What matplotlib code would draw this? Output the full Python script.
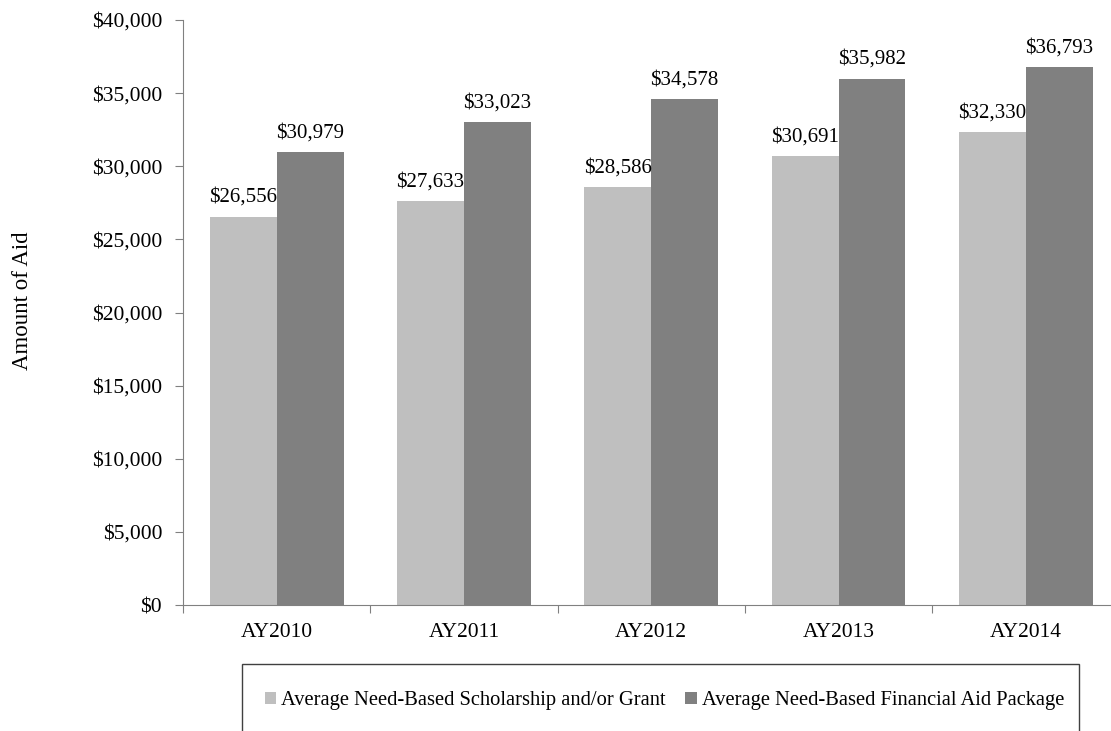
import matplotlib
matplotlib.use("Agg")
import matplotlib.pyplot as plt
import numpy as np
from matplotlib.patches import Rectangle
from matplotlib.ticker import FuncFormatter

years = ["AY2010", "AY2011", "AY2012", "AY2013", "AY2014"]
grant = [26556, 27633, 28586, 30691, 32330]
package = [30979, 33023, 34578, 35982, 36793]
series_names = ["Average Need-Based Scholarship and/or Grant",
                "Average Need-Based Financial Aid Package"]

plt.rcParams['font.family'] = ['Liberation Serif', 'DejaVu Serif']
FS = 15.5

fig = plt.figure(figsize=(11.11, 7.31), dpi=100)
W, H = 1111, 731
# axes runs a bit past the right edge, like the original
ax = fig.add_axes([183 / W, 1 - 605 / H, (1119.5 - 183) / W, 585 / H])

x = np.arange(len(years))
bw = 0.357
b1 = ax.bar(x - bw / 2, grant, bw, color='#BFBFBF', label=series_names[0])
b2 = ax.bar(x + bw / 2, package, bw, color='#808080', label=series_names[1])

for bars, vals in ((b1, grant), (b2, package)):
    for r, v in zip(bars, vals):
        ax.annotate('${:,}'.format(v), (r.get_x() + r.get_width() / 2, v),
                    xytext=(0, 7), textcoords='offset points',
                    ha='center', va='bottom', fontsize=15)

ax.set_xlim(-0.5, len(years) - 0.5)
ax.set_ylim(0, 40000)
ax.set_yticks(range(0, 40001, 5000))
ax.yaxis.set_major_formatter(FuncFormatter(lambda v, p: '${:,.0f}'.format(v)))

# category ticks sit between groups, labels centred
ax.set_xticks(np.arange(len(years)) - 0.5)
ax.set_xticklabels([])
ax.set_xticks(x, minor=True)
ax.set_xticklabels(years, minor=True, fontsize=FS)
ax.tick_params(axis='x', which='minor', length=0, pad=13)
ax.tick_params(axis='x', which='major', length=6, direction='out', color='#808080')
ax.tick_params(axis='y', length=6, direction='out', color='#808080', labelsize=FS, pad=9)

for s in ('top', 'right'):
    ax.spines[s].set_visible(False)
for s in ('left', 'bottom'):
    ax.spines[s].set_color('#808080')

fig.text(23 / W, 1 - 301 / H, 'Amount of Aid', rotation=90, ha='center', va='center', fontsize=16.5)

# legend frame
fig.patches.append(Rectangle((242 / W, -0.05), (1079 - 242) / W, 0.05 + (731 - 664) / H,
                             transform=fig.transFigure, fill=False, edgecolor='#404040', lw=1))
fig.legend(handles=[b1, b2], loc='center', bbox_to_anchor=(664.5 / W, 1 - 701 / H),
           ncol=2, frameon=False, fontsize=14.8, handlelength=0.55, handleheight=0.55,
           handletextpad=0.25, columnspacing=0.95)

fig.savefig('out.png', dpi=100)
